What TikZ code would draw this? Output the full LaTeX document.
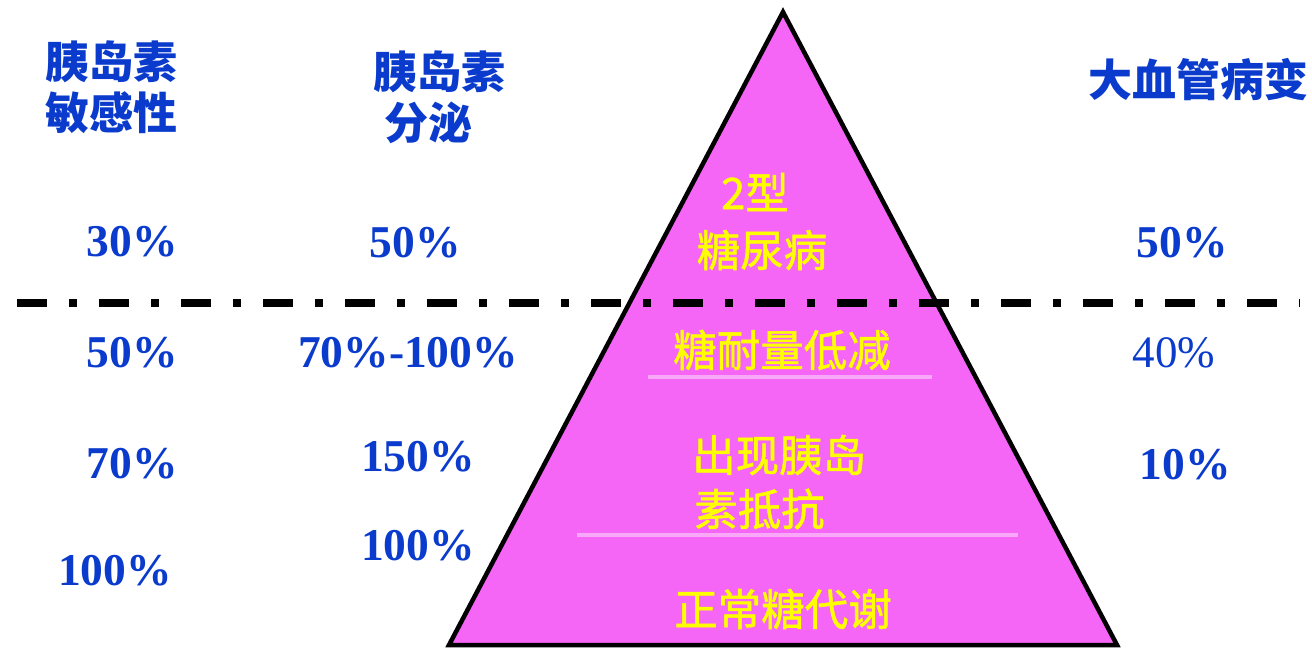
\documentclass[tikz,border=0pt]{standalone}
\usepackage{fontspec}
\setmainfont{Liberation Serif}
\newfontfamily\cjk{Noto Sans CJK SC}
\newfontfamily\cjky[FakeBold=1.2]{Noto Sans CJK SC}
\newfontfamily\numfont{Liberation Serif}
\definecolor{pyrfill}{HTML}{F666F6}
\definecolor{paleline}{HTML}{F9A8F9}
\definecolor{bluetxt}{HTML}{0A3BCC}
\definecolor{yeltxt}{HTML}{FFFF00}
\begin{document}
\begin{tikzpicture}[x=1pt,y=-1pt,
  hdr/.style={inner sep=0pt,text=bluetxt,font=\cjk\bfseries\fontsize{44}{48}\selectfont},
  pct/.style={inner sep=0pt,text=bluetxt,font=\numfont\bfseries\fontsize{45.5}{48}\selectfont},
  pctlight/.style={inner sep=0pt,text=bluetxt,font=\numfont\fontsize{45}{48}\selectfont},
  ylw/.style={inner sep=0pt,text=yeltxt,font=\cjky\fontsize{43.5}{48}\selectfont},
  divider/.style={line width=8pt,black,dash pattern=on 30pt off 22pt on 8pt off 22pt},
  pale/.style={line width=3.5pt,paleline}]
\useasboundingbox (0,0) rectangle (1312,653);
% pyramid
\coordinate (apex) at (783,12);
\coordinate (bl) at (449,645);
\coordinate (br) at (1117,645);
\fill[pyrfill] (apex) -- (bl) -- (br) -- cycle;
\coordinate (p1a) at (648,377);
\coordinate (p1b) at (932,377);
\coordinate (p2a) at (577,535);
\coordinate (p2b) at (1018,535);
\draw[pale] (p1a) -- (p1b);
\draw[pale] (p2a) -- (p2b);
\draw[line width=4.5pt,line join=miter] (apex) -- (bl) -- (br) -- cycle;
% divider
\coordinate (dl) at (17,303);
\coordinate (dr) at (1300,303);
\draw[divider] (dl) -- (dr);
% headers
\node[hdr,anchor=west] (h1a) at (45,62) {胰岛素};
\node[hdr,anchor=west] (h1b) at (45,113) {敏感性};
\node[hdr,anchor=west] (h2a) at (373,72) {胰岛素};
\node[hdr,anchor=west] (h2b) at (384,123) {分泌};
\node[hdr,anchor=west] (h3) at (1088,80) {大血管病变};
% percentages
\node[pct] (a1) at (132,242) {30\%};
\node[pct] (b1) at (415,243) {50\%};
\node[pct] (c1) at (1182,243) {50\%};
\node[pct] (a2) at (132,353) {50\%};
\node[pct] (b2) at (408,353) {70\%-100\%};
\node[pctlight] (c2) at (1174,353) {40\%};
\node[pct] (a3) at (132,464) {70\%};
\node[pct] (b3) at (418,457) {150\%};
\node[pct] (c3) at (1185,465) {10\%};
\node[pct] (a4) at (115,571) {100\%};
\node[pct] (b4) at (418,546) {100\%};
% pyramid labels
\node[ylw] (t1a) at (755,192) {2型};
\node[ylw] (t1b) at (762,250) {糖尿病};
\node[ylw] (t2) at (782,350) {糖耐量低减};
\node[ylw,anchor=west] (t3a) at (692,455) {出现胰岛};
\node[ylw,anchor=west] (t3b) at (694,509) {素抵抗};
\node[ylw] (t4) at (783,609) {正常糖代谢};
\end{tikzpicture}
\end{document}
